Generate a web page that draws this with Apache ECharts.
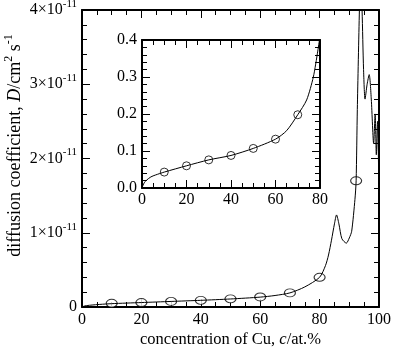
<!DOCTYPE html>
<html>
<head>
<meta charset="utf-8">
<script src="https://cdn.jsdelivr.net/npm/echarts@6/dist/echarts.min.js"></script>
<style>
  html, body { margin: 0; padding: 0; background: #fff; }
  #chart { width: 393px; height: 347px; }
</style>
</head>
<body>
<div id="chart"></div>
<script>
// values in units of 1e-11 cm^2/s
// full curve
const mainCurve = [
  [0, 0], [1, 0.015], [3, 0.025], [6, 0.035], [10, 0.045], [20, 0.06],
  [30, 0.075], [40, 0.09], [50, 0.108], [60, 0.133], [65, 0.155], [70, 0.19],
  [75, 0.27], [80, 0.4], [82, 0.56], [83, 0.7], [84, 0.9], [85, 1.12],
  [85.7, 1.24], [86.5, 1.12], [87.5, 0.92], [89, 0.86], [90, 0.93],
  [90.8, 1.02], [91.9, 1.45], [92.3, 1.7], [92.7, 2.66], [93.4, 4.0],
  [93.8, 4.6], [94.3, 4.0], [94.8, 3.2], [95.3, 2.8], [96, 3.0],
  [96.7, 3.13], [97.4, 2.8], [98.2, 2.2], [98.7, 2.6], [99.1, 2.05],
  [99.5, 2.5], [100, 1.5]
];
const mainMarkers = [
  [10, 0.05], [20, 0.06], [30, 0.075], [40, 0.09], [50, 0.11],
  [60, 0.135], [70, 0.19], [80, 0.4], [92.3, 1.7]
];
// inset curve, 0..80 at.%
const insetCurve = [
  [0, 0], [0.5, 0.008], [1, 0.014], [2, 0.021], [4, 0.03], [6, 0.035],
  [10, 0.043], [20, 0.06], [30, 0.076], [40, 0.088], [50, 0.107],
  [60, 0.132], [65, 0.155], [70, 0.198], [74, 0.238], [77, 0.3],
  [79, 0.37], [80, 0.41]
];
const insetMarkers = [
  [10, 0.043], [20, 0.06], [30, 0.076], [40, 0.088], [50, 0.107],
  [60, 0.132], [70, 0.198]
];
const mainXTicks = [0, 20, 40, 60, 80, 100];
const mainYTicks = [0, 1, 2, 3, 4];
const insetXTicks = [0, 20, 40, 60, 80];
const insetYTicks = [0, 0.1, 0.2, 0.3, 0.4];

const FONT = 'Liberation Serif';
const black = '#000';

// one frame side: ticks pointing in
function frameAxis(gridIndex, position, min, max, interval, minorSplit, label) {
  return {
    type: 'value', gridIndex, position, min, max, interval,
    axisLine: { show: true, onZero: false, lineStyle: { color: black, width: 2 } },
    axisTick: { show: true, inside: true, length: 8, lineStyle: { color: 'black' } },
    minorTick: { show: true, splitNumber: minorSplit, length: 5, lineStyle: { color: 'black' } },
    splitLine: { show: false },
    axisLabel: label || { show: false }
  };
}

const chart = echarts.init(document.getElementById('chart'));

const xMain = frameAxis(0, 'bottom', mainXTicks[0], mainXTicks[mainXTicks.length - 1], 20, 4,
  { show: true, margin: 5, color: black, fontFamily: FONT, fontSize: 16 });
xMain.name = '{n|concentration of Cu, }{i|c}{n|/at.%}';
xMain.nameLocation = 'middle';
xMain.nameGap = 24;
xMain.nameMoveOverlap = false;
xMain.nameTextStyle = {
  rich: {
    n: { fontFamily: FONT, fontSize: 16.5, color: black },
    i: { fontFamily: FONT, fontSize: 16.5, color: black, fontStyle: 'italic' }
  }
};

const yMain = frameAxis(0, 'left', mainYTicks[0], mainYTicks[mainYTicks.length - 1], 1, 5, {
  show: true, margin: 5,
  formatter: (v) => v === 0 ? '{a|0}' : '{a|' + v + '×10}{s|-11}',
  rich: {
    a: { fontFamily: FONT, fontSize: 16, color: black },
    s: { fontFamily: FONT, fontSize: 11, color: black, padding: [0, 0, 12, 0] }
  }
});
yMain.name = '{n|diffusion coefficient, }{i|D}{n|/cm}{s|2}{n| s}{s|-1}';
yMain.nameLocation = 'middle';
yMain.nameGap = 55;
yMain.nameRotate = 90;
yMain.nameMoveOverlap = false;
yMain.nameTextStyle = {
  padding: [0, 0, 0, 26],
  rich: {
    n: { fontFamily: FONT, fontSize: 18, color: black },
    i: { fontFamily: FONT, fontSize: 18, color: black, fontStyle: 'italic' },
    s: { fontFamily: FONT, fontSize: 12, color: black, padding: [0, 0, 12, 0] }
  }
};

const xInset = frameAxis(1, 'bottom', insetXTicks[0], insetXTicks[insetXTicks.length - 1], 20, 4,
  { show: true, margin: 4, color: black, fontFamily: FONT, fontSize: 16 });
const yInset = frameAxis(1, 'left', insetYTicks[0], insetYTicks[insetYTicks.length - 1], 0.1, 5,
  { show: true, margin: 5, color: black, fontFamily: FONT, fontSize: 16, formatter: (v) => v.toFixed(1) });

const option = {
  animation: false,
  backgroundColor: '#fff',
  grid: [
    { left: 82, top: 10, right: 14, bottom: 40, outerBoundsMode: 'none' },
    { left: 142, top: 40, right: 73, bottom: 159, outerBoundsMode: 'none',
      show: true, backgroundColor: '#fff', borderWidth: 0 }
  ],
  xAxis: [
    xMain,
    frameAxis(0, 'top', 0, 100, 20, 4),
    xInset,
    frameAxis(1, 'top', 0, 80, 20, 4)
  ],
  yAxis: [
    yMain,
    frameAxis(0, 'right', 0, 4, 1, 5),
    yInset,
    frameAxis(1, 'right', 0, 0.4, 0.1, 5)
  ],
  series: [
    {
      type: 'line', xAxisIndex: 0, yAxisIndex: 0, data: mainCurve,
      showSymbol: false, smooth: 0.25, clip: true,
      lineStyle: { color: black, width: 1 }
    },
    {
      type: 'scatter', xAxisIndex: 0, yAxisIndex: 0, data: mainMarkers,
      symbol: 'circle', symbolSize: [11, 8],
      itemStyle: { color: '#fff', borderColor: black, borderWidth: 1 }
    },
    {
      type: 'line', xAxisIndex: 2, yAxisIndex: 2, data: insetCurve,
      showSymbol: false, smooth: 0.25, clip: true,
      lineStyle: { color: black, width: 1 }
    },
    {
      type: 'scatter', xAxisIndex: 2, yAxisIndex: 2, data: insetMarkers,
      symbol: 'circle', symbolSize: 8,
      itemStyle: { color: '#fff', borderColor: black, borderWidth: 1 }
    }
  ]
};

chart.setOption(option);
</script>
</body>
</html>
